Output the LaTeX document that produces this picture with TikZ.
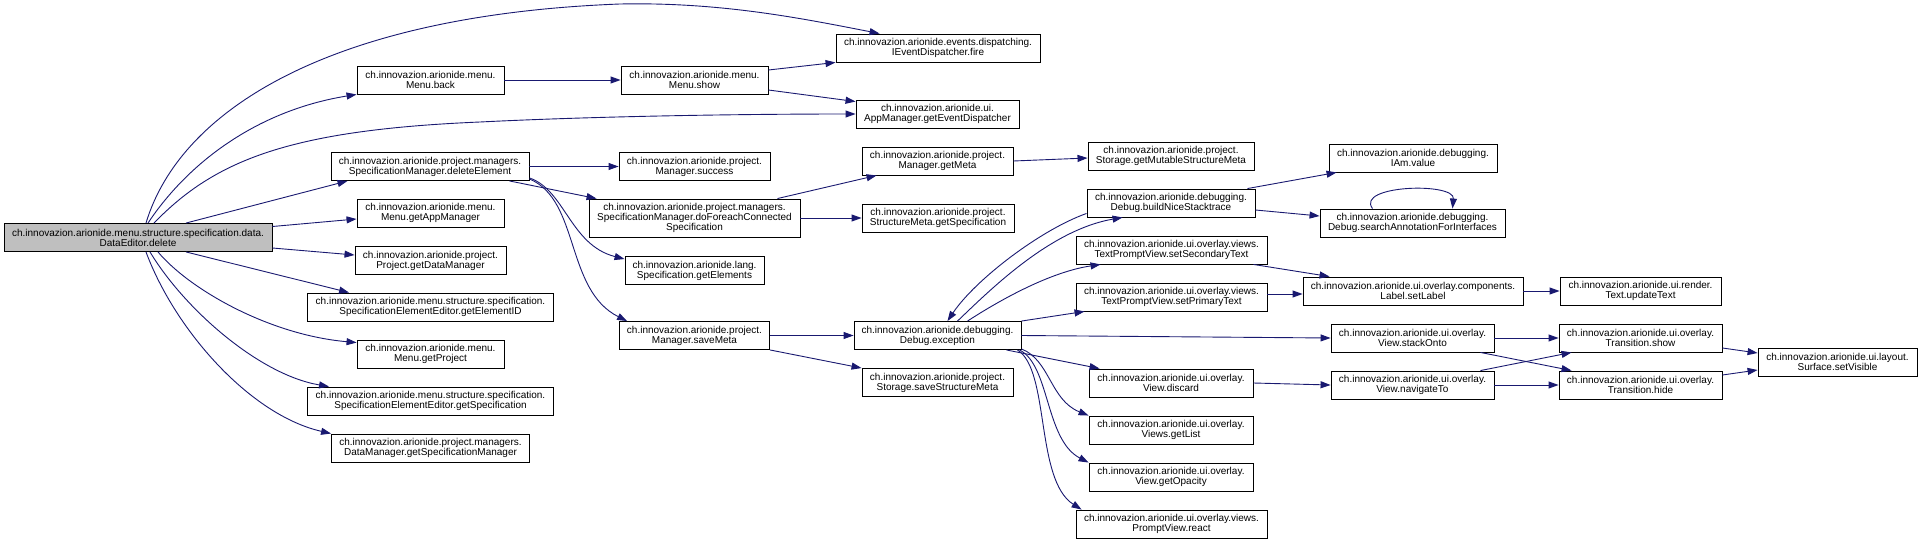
\documentclass[tikz,border=0pt]{standalone}
\usepackage{fontspec}
\setmainfont{Liberation Sans}
\usetikzlibrary{arrows.meta}
\definecolor{edgeblue}{HTML}{191970}
\definecolor{rootgray}{HTML}{BFBFBF}
\begin{document}
\begin{tikzpicture}[x=1pt,y=-1pt,
  fn/.style={draw=black, line width=0.9pt, fill=white, align=center,
    inner xsep=4pt, inner ysep=0pt, minimum height=28pt,
    font=\fontsize{10pt}{10pt}\selectfont},
  call/.style={draw=edgeblue, line width=0.9pt, -{Triangle[length=10pt,width=7pt]}}]
\useasboundingbox (0,0) rectangle (1921,543);
% column 1
\node[fn, fill=rootgray, minimum width=268pt] (de) at (138,237.5) {ch.innovazion.arionide.menu.structure.specification.data.\\DataEditor.delete};
% column 2
\node[fn, minimum width=147pt] (mback) at (430.5,80) {ch.innovazion.arionide.menu.\\Menu.back};
\node[fn, minimum width=198pt] (delel) at (430,166.5) {ch.innovazion.arionide.project.managers.\\SpecificationManager.deleteElement};
\node[fn, minimum width=147pt] (gam) at (430.5,213) {ch.innovazion.arionide.menu.\\Menu.getAppManager};
\node[fn, minimum width=151pt] (gdm) at (430.5,260.5) {ch.innovazion.arionide.project.\\Project.getDataManager};
\node[fn, minimum width=246pt] (geid) at (430.5,307) {ch.innovazion.arionide.menu.structure.specification.\\SpecificationElementEditor.getElementID};
\node[fn, minimum width=147pt] (gproj) at (430.5,354) {ch.innovazion.arionide.menu.\\Menu.getProject};
\node[fn, minimum width=246pt] (gspec) at (430.5,401) {ch.innovazion.arionide.menu.structure.specification.\\SpecificationElementEditor.getSpecification};
\node[fn, minimum width=198pt] (gsm) at (430.5,448) {ch.innovazion.arionide.project.managers.\\DataManager.getSpecificationManager};
% column 3
\node[fn, minimum width=147pt] (mshow) at (694.5,80) {ch.innovazion.arionide.menu.\\Menu.show};
\node[fn, minimum width=151pt] (msucc) at (694.5,166.5) {ch.innovazion.arionide.project.\\Manager.success};
\node[fn, minimum width=211pt, minimum height=38pt] (dofe) at (694.5,218) {ch.innovazion.arionide.project.managers.\\SpecificationManager.doForeachConnected\\Specification};
\node[fn, minimum width=139pt] (gel) at (694.5,270.5) {ch.innovazion.arionide.lang.\\Specification.getElements};
\node[fn, minimum width=150pt] (savem) at (694.5,335.5) {ch.innovazion.arionide.project.\\Manager.saveMeta};
% column 4
\node[fn, minimum width=204pt] (fire) at (938,48) {ch.innovazion.arionide.events.dispatching.\\IEventDispatcher.fire};
\node[fn, minimum width=163pt] (ged) at (937.5,114) {ch.innovazion.arionide.ui.\\AppManager.getEventDispatcher};
\node[fn, minimum width=151pt] (gmeta) at (937.5,161) {ch.innovazion.arionide.project.\\Manager.getMeta};
\node[fn, minimum width=152pt] (smspec) at (938,218) {ch.innovazion.arionide.project.\\StructureMeta.getSpecification};
\node[fn, minimum width=167pt] (exc) at (937.5,335.5) {ch.innovazion.arionide.debugging.\\Debug.exception};
\node[fn, minimum width=151pt] (ssm) at (937.5,382.5) {ch.innovazion.arionide.project.\\Storage.saveStructureMeta};
% column 5
\node[fn, minimum width=166pt] (gmsm) at (1171,156) {ch.innovazion.arionide.project.\\Storage.getMutableStructureMeta};
\node[fn, minimum width=168pt] (bns) at (1171,203) {ch.innovazion.arionide.debugging.\\Debug.buildNiceStacktrace};
\node[fn, minimum width=191pt] (sst) at (1171.5,250) {ch.innovazion.arionide.ui.overlay.views.\\TextPromptView.setSecondaryText};
\node[fn, minimum width=191pt] (spt) at (1171.5,297) {ch.innovazion.arionide.ui.overlay.views.\\TextPromptView.setPrimaryText};
\node[fn, minimum width=164pt] (vdis) at (1171,383) {ch.innovazion.arionide.ui.overlay.\\View.discard};
\node[fn, minimum width=164pt] (vgl) at (1171,430) {ch.innovazion.arionide.ui.overlay.\\Views.getList};
\node[fn, minimum width=164pt] (vgo) at (1171,477) {ch.innovazion.arionide.ui.overlay.\\View.getOpacity};
\node[fn, minimum width=191pt] (pvr) at (1171.5,524) {ch.innovazion.arionide.ui.overlay.views.\\PromptView.react};
% column 6
\node[fn, minimum width=168pt] (iam) at (1413,158) {ch.innovazion.arionide.debugging.\\IAm.value};
\node[fn, minimum width=185pt] (saf) at (1412.5,223) {ch.innovazion.arionide.debugging.\\Debug.searchAnnotationForInterfaces};
\node[fn, minimum width=220pt] (slab) at (1413,291) {ch.innovazion.arionide.ui.overlay.components.\\Label.setLabel};
\node[fn, minimum width=163pt] (vso) at (1412.5,338) {ch.innovazion.arionide.ui.overlay.\\View.stackOnto};
\node[fn, minimum width=163pt] (vnt) at (1412.5,385) {ch.innovazion.arionide.ui.overlay.\\View.navigateTo};
% column 7
\node[fn, minimum width=161pt] (upd) at (1640.5,291) {ch.innovazion.arionide.ui.render.\\Text.updateText};
\node[fn, minimum width=163pt] (tshow) at (1640.5,338) {ch.innovazion.arionide.ui.overlay.\\Transition.show};
\node[fn, minimum width=163pt] (thide) at (1640.5,385) {ch.innovazion.arionide.ui.overlay.\\Transition.hide};
% column 8
\node[fn, minimum width=159pt] (svis) at (1837.5,362) {ch.innovazion.arionide.ui.layout.\\Surface.setVisible};

% edges from DataEditor.delete
\draw[call] ([xshift=8pt]de.north) .. controls (180,110) and (330,15) .. (620,4) .. controls (720,2) and (800,18) .. ([xshift=44pt]fire.north west);
\draw[call] ([xshift=10pt]de.north) .. controls (190,160) and (260,110) .. (mback.south west);
\draw[call] ([xshift=16pt]de.north) .. controls (215,160) and (290,130) .. (480,122) .. controls (600,116) and (750,114) .. (ged.west);
\draw[call] ([xshift=48pt]de.north) -- ([xshift=17pt]delel.south west);
\draw[call] ([yshift=11pt]de.east) -- ([yshift=-6pt]gam.west);
\draw[call] ([yshift=-10.5pt]de.east) -- ([yshift=5.5pt]gdm.west);
\draw[call] ([xshift=48pt]de.south) -- ([xshift=42pt]geid.north west);
\draw[call] ([xshift=20pt]de.south) .. controls (190,290) and (270,335) .. ([yshift=-3pt]gproj.north west);
\draw[call] ([xshift=12pt]de.south) .. controls (185,310) and (260,375) .. ([xshift=22pt]gspec.north west);
\draw[call] ([xshift=8pt]de.south) .. controls (175,330) and (250,415) .. (gsm.north west);
% Menu
\draw[call] (mback.east) -- (mshow.west);
\draw[call] ([yshift=10pt]mshow.east) -- (fire.south west);
\draw[call] ([yshift=-10pt]mshow.east) -- ([yshift=-2pt]ged.north west);
% deleteElement
\draw[call] (delel.east) -- (msucc.west);
\draw[call] ([xshift=-20pt]delel.south east) -- ([xshift=8pt]dofe.north west);
\draw[call] ([yshift=3pt]delel.south east) .. controls (565,190) and (570,245) .. ([yshift=-3pt]gel.north west);
\draw[call] ([yshift=2pt]delel.south east) .. controls (580,200) and (565,290) .. ([xshift=8pt]savem.north west);
\draw[call] ([xshift=-23pt]dofe.north east) -- ([xshift=15pt]gmeta.south west);
\draw[call] (dofe.east) -- (smspec.west);
\draw[call] (gmeta.east) -- ([yshift=-2pt]gmsm.west);
\draw[call] (savem.east) -- (exc.west);
\draw[call] (savem.south east) -- (ssm.north west);
% Debug.exception
\draw[call] ([xshift=20pt]exc.north) .. controls (990,290) and (1050,230) .. ([xshift=36pt]bns.south west);
\draw[call] ([yshift=4pt]bns.south west) .. controls (1040,230) and (975,280) .. ([xshift=10pt]exc.north);
\draw[call] ([xshift=30pt]exc.north) .. controls (1000,300) and (1050,272) .. ([xshift=25pt]sst.south west);
\draw[call] (exc.north east) -- ([xshift=9pt]spt.south west);
\draw[call] (exc.east) -- (vso.west);
\draw[call] ([xshift=-15pt]exc.south east) -- ([xshift=11pt]vdis.north west);
\draw[call] ([yshift=1pt]exc.south east) .. controls (1050,360) and (1050,400) .. (vgl.north west);
\draw[call] ([xshift=-2pt]exc.south east) .. controls (1050,365) and (1045,440) .. (vgo.north west);
\draw[call] ([xshift=-4pt]exc.south east) .. controls (1050,370) and (1035,480) .. ([xshift=6pt]pvr.north west);
% buildNiceStacktrace
\draw[call] ([xshift=-8pt]bns.north east) -- ([xshift=8pt]iam.south west);
\draw[call] ([yshift=-7pt]bns.east) -- ([yshift=7pt]saf.west);
\draw[call] ([xshift=-40pt]saf.north) .. controls (1355,185) and (1455,182) .. ([xshift=40pt]saf.north);
% labels
\draw[call] ([xshift=-14pt]sst.south east) -- ([xshift=27pt]slab.north west);
\draw[call] ([yshift=3pt]spt.east) -- ([yshift=-3pt]slab.west);
\draw[call] (slab.east) -- (upd.west);
% views
\draw[call] (vso.east) -- (tshow.west);
\draw[call] ([xshift=-14pt]vso.south east) -- ([xshift=13pt]thide.north west);
\draw[call] (vdis.east) -- (vnt.west);
\draw[call] ([xshift=-14pt]vnt.north east) -- ([xshift=13pt]tshow.south west);
\draw[call] (vnt.east) -- (thide.west);
\draw[call] ([yshift=-10pt]tshow.east) -- ([yshift=9pt]svis.west);
\draw[call] ([yshift=10pt]thide.east) -- ([yshift=-8pt]svis.west);
\end{tikzpicture}
\end{document}
